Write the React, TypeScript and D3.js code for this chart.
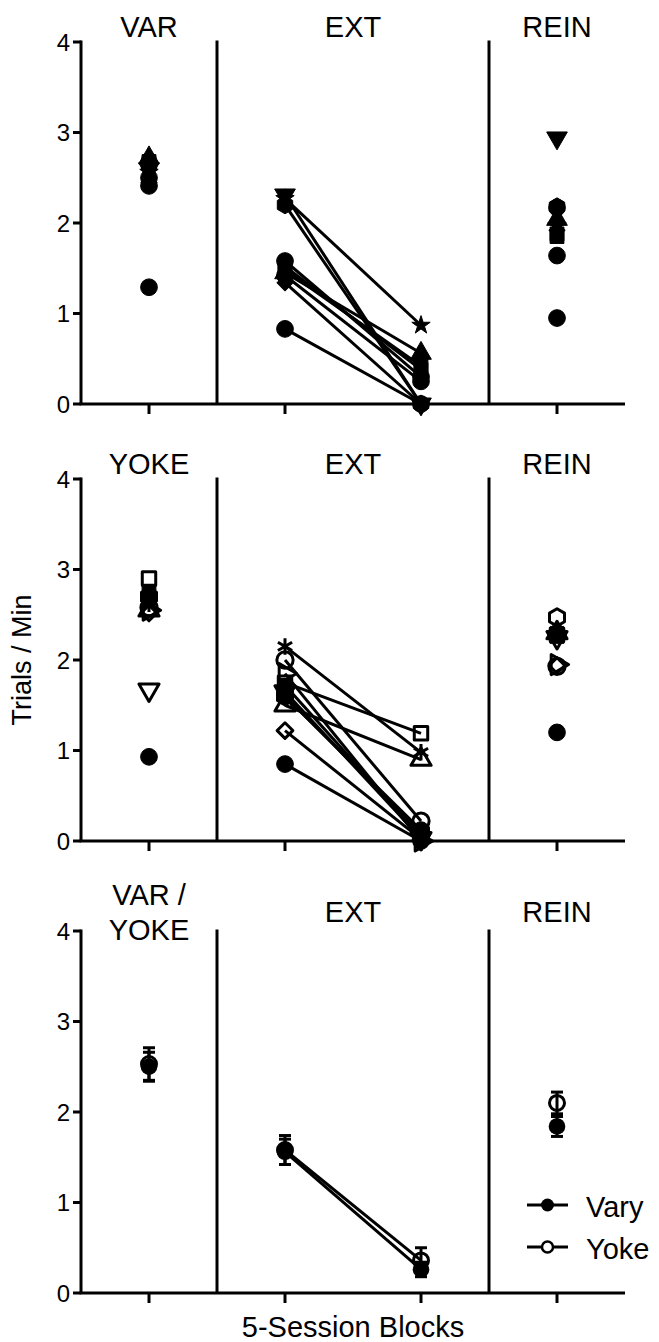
import React from "react";
import * as d3 from "d3";

const W = 659;
const H = 1342;

// x categories: training block, two extinction blocks, reinstatement
const blocks = ["VAR", "EXT 1", "EXT 2", "REIN"];
const yTicks = [0, 1, 2, 3, 4];

// Vary group: one row of symbols per subject
const varyShapes = ["circle", "circle", "square", "triangle", "triangleDown", "diamond", "star", "hexagon", "circle", "square"];
const varyVAR = [1.29, 2.41, 2.68, 2.72, 2.6, 2.45, 2.56, 2.64, 2.5, 2.66];
const varyEXT1 = [0.83, 1.58, 1.52, 1.45, 2.31, 1.34, 2.27, 2.2, 1.42, 1.48];
const varyEXT2 = [0.0, 0.3, 0.38, 0.56, 0.0, 0.0, 0.87, 0.0, 0.25, 0.42];
const varyREIN = [0.95, 1.64, 1.85, 2.04, 2.94, 1.92, 1.97, 2.18, 2.17, 1.88];

// Yoke group
const yokeShapes = ["circle", "square", "triangle", "triangleDown", "diamond", "asterisk", "hexagon", "circle", "square", "triangleRight", "circle"];
const yokeFilled = [true, false, false, false, false, false, false, false, true, false, true];
const yokeVAR = [0.93, 2.9, 2.55, 1.67, 2.52, 2.62, 2.7, 2.58, 2.75, 2.55, 2.68];
const yokeEXT1 = [0.85, 1.75, 1.5, 1.65, 1.22, 2.15, 1.6, 2.0, 1.72, 1.85, 1.6];
const yokeEXT2 = [0.0, 1.19, 0.9, 0.03, 0.02, 0.98, 0.1, 0.22, 0.05, 0.0, 0.12];
const yokeREIN = [1.2, 2.28, 2.3, 2.25, 1.94, 2.32, 2.47, 1.93, 2.26, 1.95, 2.3];

// Group means (+/- SEM) per block
const varyMean = [2.5, 1.56, 0.26, 1.84];
const varySem = [0.16, 0.14, 0.08, 0.11];
const yokeMean = [2.53, 1.58, 0.36, 2.1];
const yokeSem = [0.18, 0.16, 0.14, 0.12];

const legendLabels = ["Vary", "Yoke"];

const FONT = "'Liberation Sans', Arial, Helvetica, sans-serif";
const TITLE_SIZE = 29;

const hexagon: d3.SymbolType = {
  draw(ctx, size) {
    const r = Math.sqrt(size / ((3 * Math.sqrt(3)) / 2));
    for (let i = 0; i < 6; i++) {
      const a = (Math.PI / 3) * i + Math.PI / 6;
      const px = r * Math.cos(a);
      const py = r * Math.sin(a);
      if (i === 0) ctx.moveTo(px, py);
      else ctx.lineTo(px, py);
    }
    ctx.closePath();
  },
};

const shapeDefs: Record<string, { type: d3.SymbolType; rot: number; size: number }> = {
  circle: { type: d3.symbolCircle, rot: 0, size: 220 },
  square: { type: d3.symbolSquare, rot: 0, size: 190 },
  triangle: { type: d3.symbolTriangle, rot: 0, size: 185 },
  triangleDown: { type: d3.symbolTriangle, rot: 180, size: 185 },
  triangleRight: { type: d3.symbolTriangle, rot: 90, size: 185 },
  diamond: { type: d3.symbolSquare, rot: 45, size: 130 },
  star: { type: d3.symbolStar, rot: 0, size: 105 },
  hexagon: { type: hexagon, rot: 0, size: 205 },
  asterisk: { type: d3.symbolAsterisk, rot: 0, size: 190 },
};

function Marker({ shape, x, y, filled }: { shape: string; x: number; y: number; filled: boolean }) {
  const def = shapeDefs[shape];
  const strokeOnly = shape === "asterisk";
  const size = def.size * (filled || strokeOnly ? 1 : 0.95);
  const d = d3.symbol(def.type, size)() || "";
  return (
    <path
      d={d}
      transform={`translate(${x},${y}) rotate(${def.rot})`}
      fill={filled && !strokeOnly ? "#000" : "none"}
      stroke="#000"
      strokeWidth={filled ? 1 : 3}
      strokeLinejoin="round"
    />
  );
}

const x = d3.scaleLinear().domain([-0.5, 3.5]).range([81, 625]);

type Panel = { top: number; bottom: number };
const panelBoxes: Panel[] = [
  { top: 42, bottom: 404 },
  { top: 479, bottom: 841 },
  { top: 931, bottom: 1293 },
];

function Axes({ y, top, bottom }: { y: d3.ScaleLinear<number, number>; top: number; bottom: number }) {
  return (
    <g stroke="#000" strokeWidth={3} fill="none">
      <line x1={x(-0.5)} x2={x(-0.5)} y1={top - 1.5} y2={bottom} />
      <line x1={x(-0.5) - 1.5} x2={x(3.5)} y1={bottom} y2={bottom} />
      {[0.5, 2.5].map((v) => (
        <line key={v} x1={x(v)} x2={x(v)} y1={top - 1.5} y2={bottom} />
      ))}
      {yTicks.map((t) => (
        <line key={"yt" + t} x1={x(-0.5) - 8} x2={x(-0.5)} y1={y(t)} y2={y(t)} />
      ))}
      {blocks.map((b, i) => (
        <line key={"xt" + b} x1={x(i)} x2={x(i)} y1={bottom} y2={bottom + 10} />
      ))}
      {yTicks.map((t) => (
        <text
          key={"yl" + t}
          x={x(-0.5) - 11}
          y={y(t) + 8.5}
          textAnchor="end"
          fontSize={24}
          fill="#000"
          stroke="none"
          fontFamily={FONT}
        >
          {t}
        </text>
      ))}
    </g>
  );
}

function SubjectPanel({
  box,
  shapes,
  filled,
  cols,
  titles,
}: {
  box: Panel;
  shapes: string[];
  filled: boolean[];
  cols: number[][];
  titles: string[];
}) {
  const y = d3.scaleLinear().domain([0, 4]).range([box.bottom, box.top]);
  const base = box.top - 5;
  return (
    <g>
      <Axes y={y} top={box.top} bottom={box.bottom} />
      <g fontFamily={FONT} fontSize={TITLE_SIZE} textAnchor="middle">
        <text x={x(0)} y={base}>{titles[0]}</text>
        <text x={x(1.5)} y={base}>{titles[1]}</text>
        <text x={x(3)} y={base}>{titles[2]}</text>
      </g>
      {shapes.map((s, i) => (
        <line
          key={"ln" + i}
          x1={x(1)}
          y1={y(cols[1][i])}
          x2={x(2)}
          y2={y(cols[2][i])}
          stroke="#000"
          strokeWidth={3}
        />
      ))}
      {cols.map((col, c) =>
        shapes.map((s, i) => (
          <Marker key={c + "-" + i} shape={s} x={x(c)} y={y(col[i])} filled={filled[i]} />
        ))
      )}
    </g>
  );
}

function MeanPanel({ box }: { box: Panel }) {
  const y = d3.scaleLinear().domain([0, 4]).range([box.bottom, box.top]);
  const line = d3
    .line<number>()
    .x((_, i) => x(i + 1))
    .y((v) => y(v));
  const bars = (means: number[], sems: number[], key: string) =>
    means.map((m, i) => (
      <g key={key + i} stroke="#000" strokeWidth={3}>
        <line x1={x(i)} x2={x(i)} y1={y(m - sems[i])} y2={y(m + sems[i])} />
        <line x1={x(i) - 6} x2={x(i) + 6} y1={y(m + sems[i])} y2={y(m + sems[i])} />
        <line x1={x(i) - 6} x2={x(i) + 6} y1={y(m - sems[i])} y2={y(m - sems[i])} />
      </g>
    ));
  const ly = [1205, 1247];
  return (
    <g>
      <Axes y={y} top={box.top} bottom={box.bottom} />
      <g fontFamily={FONT} fontSize={TITLE_SIZE} textAnchor="middle">
        <text x={x(0)} y={905}>VAR /</text>
        <text x={x(0)} y={940}>YOKE</text>
        <text x={x(1.5)} y={922}>EXT</text>
        <text x={x(3)} y={922}>REIN</text>
      </g>
      <path d={line(varyMean.slice(1, 3)) || ""} fill="none" stroke="#000" strokeWidth={3} />
      <path d={line(yokeMean.slice(1, 3)) || ""} fill="none" stroke="#000" strokeWidth={3} />
      {bars(yokeMean, yokeSem, "ys")}
      {bars(varyMean, varySem, "vs")}
      {varyMean.map((m, i) => (
        <circle key={"vm" + i} cx={x(i)} cy={y(m)} r={8.3} fill="#000" />
      ))}
      {yokeMean.map((m, i) => (
        <circle key={"ym" + i} cx={x(i)} cy={y(m)} r={7.5} fill="none" stroke="#000" strokeWidth={3} />
      ))}
      {legendLabels.map((lab, i) => (
        <g key={lab}>
          <line x1={527} x2={568} y1={ly[i]} y2={ly[i]} stroke="#000" strokeWidth={3} />
          {i === 0 ? (
            <circle cx={547.5} cy={ly[i]} r={6.5} fill="#000" />
          ) : (
            <circle cx={547.5} cy={ly[i]} r={5.5} fill="#fff" stroke="#000" strokeWidth={2.5} />
          )}
          <text x={586} y={ly[i] + 12} fontFamily={FONT} fontSize={29}>
            {lab}
          </text>
        </g>
      ))}
    </g>
  );
}

export default function App() {
  return (
    <svg
      width={W}
      height={H}
      viewBox={`0 0 ${W} ${H}`}
      style={{ position: "absolute", left: 0, top: 0, background: "#fff" }}
    >
      <rect width={W} height={H} fill="#fff" />
      <SubjectPanel
        box={panelBoxes[0]}
        shapes={varyShapes}
        filled={varyShapes.map(() => true)}
        cols={[varyVAR, varyEXT1, varyEXT2, varyREIN]}
        titles={["VAR", "EXT", "REIN"]}
      />
      <SubjectPanel
        box={panelBoxes[1]}
        shapes={yokeShapes}
        filled={yokeFilled}
        cols={[yokeVAR, yokeEXT1, yokeEXT2, yokeREIN]}
        titles={["YOKE", "EXT", "REIN"]}
      />
      <MeanPanel box={panelBoxes[2]} />
      <text
        transform="translate(31,660) rotate(-90)"
        textAnchor="middle"
        fontFamily={FONT}
        fontSize={27}
      >
        Trials / Min
      </text>
      <text x={x(1.5)} y={1337} textAnchor="middle" fontFamily={FONT} fontSize={29}>
        5-Session Blocks
      </text>
    </svg>
  );
}
